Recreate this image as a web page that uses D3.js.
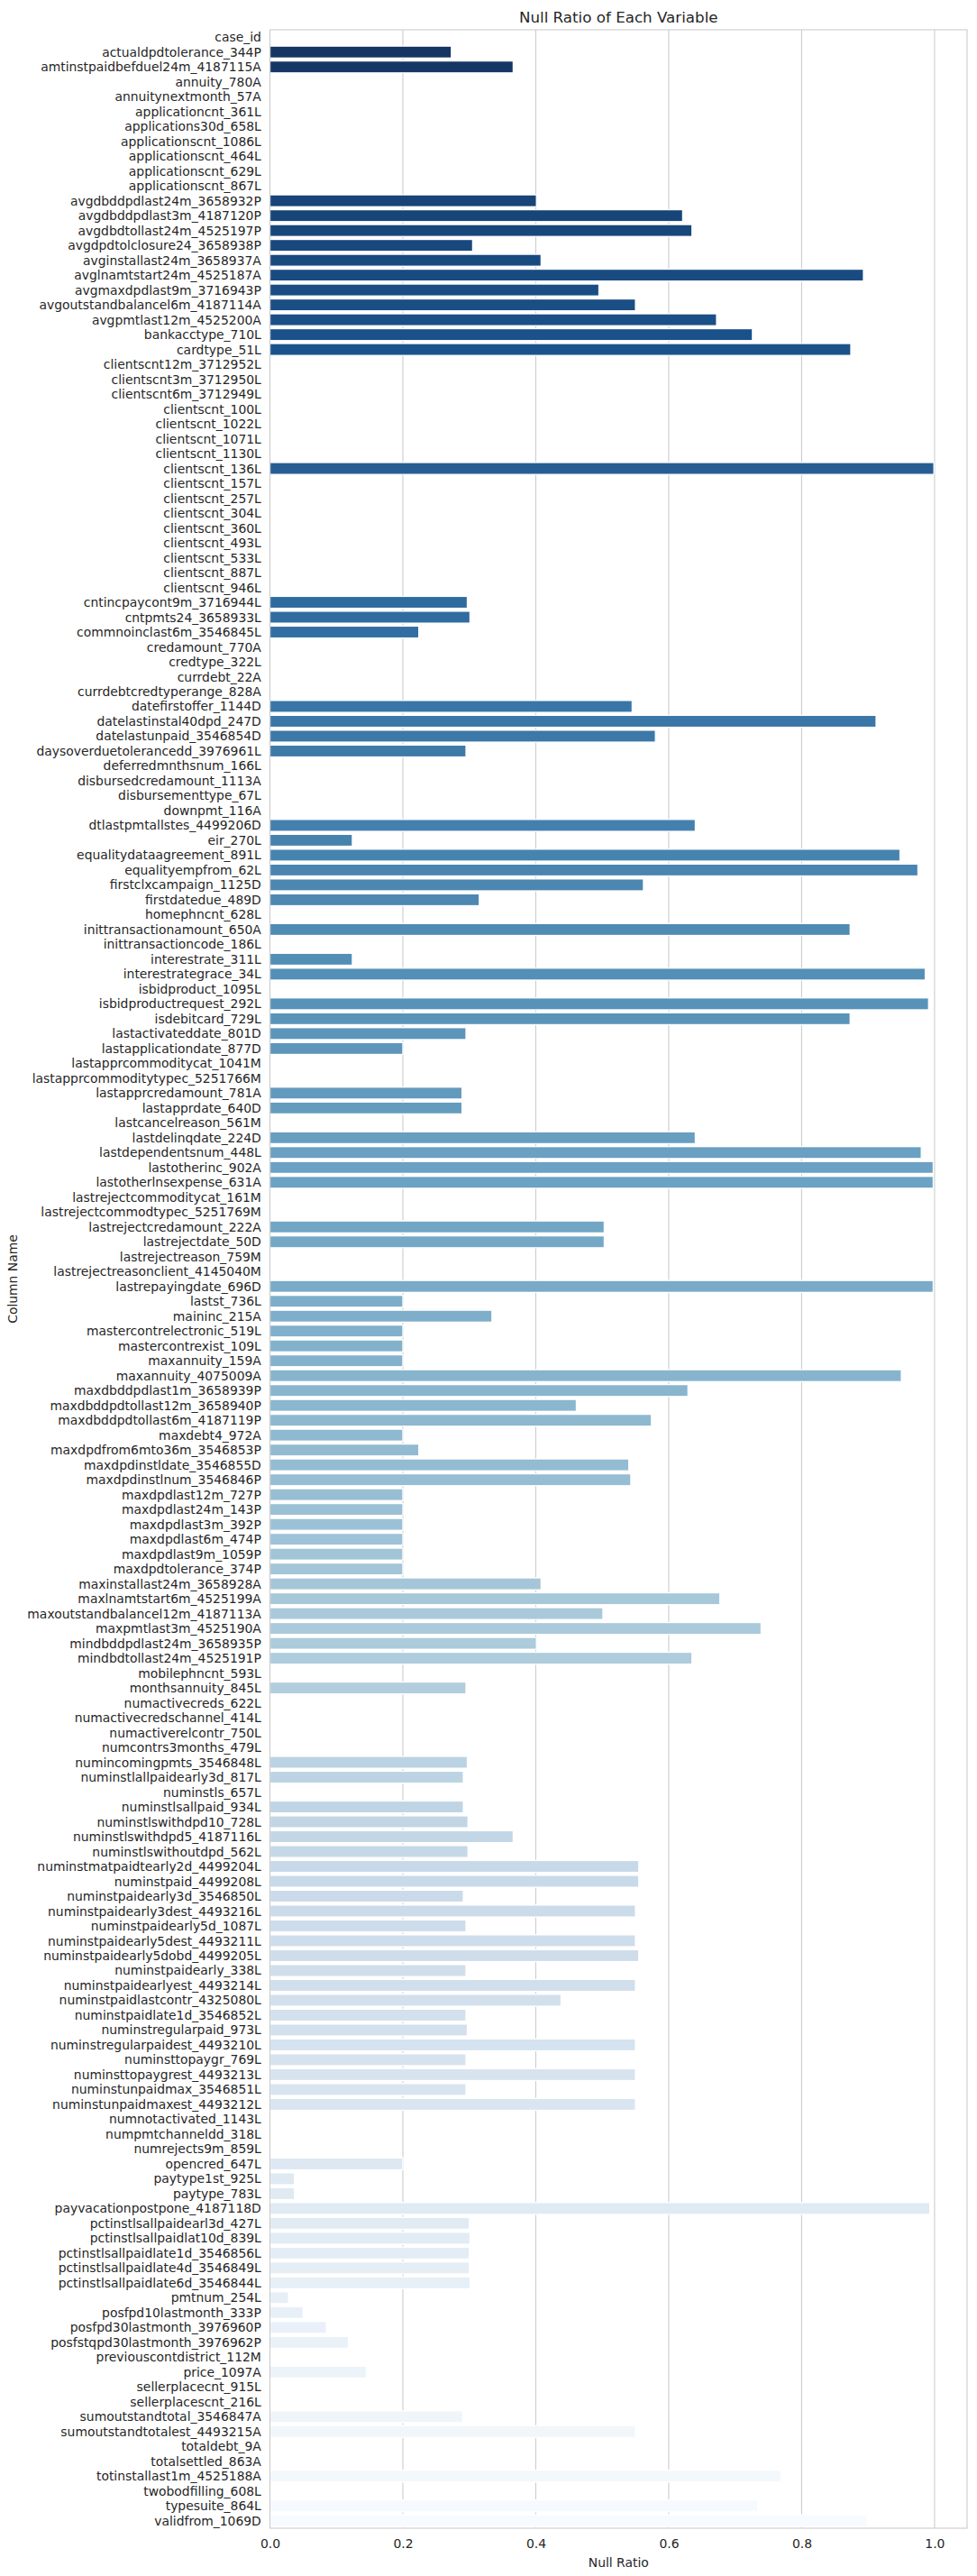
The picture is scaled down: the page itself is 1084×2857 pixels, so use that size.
<!DOCTYPE html>
<html>
<head>
<meta charset="utf-8">
<script src="https://cdn.jsdelivr.net/npm/d3@7"></script>
<style>
  html, body { margin: 0; padding: 0; background: #ffffff; }
  svg { display: block; }
  text { font-family: "DejaVu Sans", sans-serif; fill: #262626; }
</style>
</head>
<body>
<script>
const categories = [
  "case_id","actualdpdtolerance_344P","amtinstpaidbefduel24m_4187115A","annuity_780A","annuitynextmonth_57A",
  "applicationcnt_361L","applications30d_658L","applicationscnt_1086L","applicationscnt_464L","applicationscnt_629L",
  "applicationscnt_867L","avgdbddpdlast24m_3658932P","avgdbddpdlast3m_4187120P","avgdbdtollast24m_4525197P","avgdpdtolclosure24_3658938P",
  "avginstallast24m_3658937A","avglnamtstart24m_4525187A","avgmaxdpdlast9m_3716943P","avgoutstandbalancel6m_4187114A","avgpmtlast12m_4525200A",
  "bankacctype_710L","cardtype_51L","clientscnt12m_3712952L","clientscnt3m_3712950L","clientscnt6m_3712949L",
  "clientscnt_100L","clientscnt_1022L","clientscnt_1071L","clientscnt_1130L","clientscnt_136L",
  "clientscnt_157L","clientscnt_257L","clientscnt_304L","clientscnt_360L","clientscnt_493L",
  "clientscnt_533L","clientscnt_887L","clientscnt_946L","cntincpaycont9m_3716944L","cntpmts24_3658933L",
  "commnoinclast6m_3546845L","credamount_770A","credtype_322L","currdebt_22A","currdebtcredtyperange_828A",
  "datefirstoffer_1144D","datelastinstal40dpd_247D","datelastunpaid_3546854D","daysoverduetolerancedd_3976961L","deferredmnthsnum_166L",
  "disbursedcredamount_1113A","disbursementtype_67L","downpmt_116A","dtlastpmtallstes_4499206D","eir_270L",
  "equalitydataagreement_891L","equalityempfrom_62L","firstclxcampaign_1125D","firstdatedue_489D","homephncnt_628L",
  "inittransactionamount_650A","inittransactioncode_186L","interestrate_311L","interestrategrace_34L","isbidproduct_1095L",
  "isbidproductrequest_292L","isdebitcard_729L","lastactivateddate_801D","lastapplicationdate_877D","lastapprcommoditycat_1041M",
  "lastapprcommoditytypec_5251766M","lastapprcredamount_781A","lastapprdate_640D","lastcancelreason_561M","lastdelinqdate_224D",
  "lastdependentsnum_448L","lastotherinc_902A","lastotherlnsexpense_631A","lastrejectcommoditycat_161M","lastrejectcommodtypec_5251769M",
  "lastrejectcredamount_222A","lastrejectdate_50D","lastrejectreason_759M","lastrejectreasonclient_4145040M","lastrepayingdate_696D",
  "lastst_736L","maininc_215A","mastercontrelectronic_519L","mastercontrexist_109L","maxannuity_159A",
  "maxannuity_4075009A","maxdbddpdlast1m_3658939P","maxdbddpdtollast12m_3658940P","maxdbddpdtollast6m_4187119P","maxdebt4_972A",
  "maxdpdfrom6mto36m_3546853P","maxdpdinstldate_3546855D","maxdpdinstlnum_3546846P","maxdpdlast12m_727P","maxdpdlast24m_143P",
  "maxdpdlast3m_392P","maxdpdlast6m_474P","maxdpdlast9m_1059P","maxdpdtolerance_374P","maxinstallast24m_3658928A",
  "maxlnamtstart6m_4525199A","maxoutstandbalancel12m_4187113A","maxpmtlast3m_4525190A","mindbddpdlast24m_3658935P","mindbdtollast24m_4525191P",
  "mobilephncnt_593L","monthsannuity_845L","numactivecreds_622L","numactivecredschannel_414L","numactiverelcontr_750L",
  "numcontrs3months_479L","numincomingpmts_3546848L","numinstlallpaidearly3d_817L","numinstls_657L","numinstlsallpaid_934L",
  "numinstlswithdpd10_728L","numinstlswithdpd5_4187116L","numinstlswithoutdpd_562L","numinstmatpaidtearly2d_4499204L","numinstpaid_4499208L",
  "numinstpaidearly3d_3546850L","numinstpaidearly3dest_4493216L","numinstpaidearly5d_1087L","numinstpaidearly5dest_4493211L","numinstpaidearly5dobd_4499205L",
  "numinstpaidearly_338L","numinstpaidearlyest_4493214L","numinstpaidlastcontr_4325080L","numinstpaidlate1d_3546852L","numinstregularpaid_973L",
  "numinstregularpaidest_4493210L","numinsttopaygr_769L","numinsttopaygrest_4493213L","numinstunpaidmax_3546851L","numinstunpaidmaxest_4493212L",
  "numnotactivated_1143L","numpmtchanneldd_318L","numrejects9m_859L","opencred_647L","paytype1st_925L",
  "paytype_783L","payvacationpostpone_4187118D","pctinstlsallpaidearl3d_427L","pctinstlsallpaidlat10d_839L","pctinstlsallpaidlate1d_3546856L",
  "pctinstlsallpaidlate4d_3546849L","pctinstlsallpaidlate6d_3546844L","pmtnum_254L","posfpd10lastmonth_333P","posfpd30lastmonth_3976960P",
  "posfstqpd30lastmonth_3976962P","previouscontdistrict_112M","price_1097A","sellerplacecnt_915L","sellerplacescnt_216L",
  "sumoutstandtotal_3546847A","sumoutstandtotalest_4493215A","totaldebt_9A","totalsettled_863A","totinstallast1m_4525188A",
  "twobodfilling_608L","typesuite_864L","validfrom_1069D"
];

const nullRatio = [
  0, 0.273, 0.366, 0, 0,
  0, 0, 0, 0, 0,
  0, 0.401, 0.621, 0.635, 0.305,
  0.408, 0.893, 0.495, 0.550, 0.672,
  0.726, 0.874, 0, 0, 0,
  0, 0, 0, 0, 0.999,
  0, 0, 0, 0, 0,
  0, 0, 0, 0.297, 0.301,
  0.224, 0, 0, 0, 0,
  0.545, 0.912, 0.580, 0.295, 0,
  0, 0, 0, 0.640, 0.124,
  0.948, 0.975, 0.562, 0.315, 0,
  0.873, 0, 0.124, 0.986, 0,
  0.991, 0.873, 0.295, 0.200, 0,
  0, 0.289, 0.289, 0, 0.640,
  0.980, 0.998, 0.998, 0, 0,
  0.503, 0.503, 0, 0, 0.998,
  0.200, 0.334, 0.200, 0.200, 0.200,
  0.950, 0.629, 0.461, 0.574, 0.200,
  0.224, 0.540, 0.543, 0.200, 0.200,
  0.200, 0.200, 0.200, 0.200, 0.408,
  0.677, 0.501, 0.739, 0.401, 0.635,
  0, 0.295, 0, 0, 0,
  0, 0.297, 0.291, 0, 0.291,
  0.298, 0.366, 0.298, 0.555, 0.555,
  0.291, 0.550, 0.295, 0.550, 0.555,
  0.295, 0.550, 0.438, 0.295, 0.297,
  0.550, 0.295, 0.550, 0.295, 0.550,
  0, 0, 0, 0.200, 0.037,
  0.037, 0.993, 0.300, 0.301, 0.300,
  0.300, 0.301, 0.028, 0.050, 0.085,
  0.118, 0, 0.145, 0, 0,
  0.290, 0.550, 0, 0, 0.769,
  0, 0.734, 0.899
];

const xTicks = [0, 0.2, 0.4, 0.6, 0.8, 1.0];
const xTickLabels = ["0.0", "0.2", "0.4", "0.6", "0.8", "1.0"];
const titleText = "Null Ratio of Each Variable";
const xLabelText = "Null Ratio";
const yLabelText = "Column Name";
// matplotlib "Blues" anchor colours (linear segmented)
const bluesAnchors = ["#f7fbff","#deebf7","#c6dbef","#9ecae1","#6baed6","#4292c6","#2171b5","#08519c","#08306b"];

(function draw() {
  const W = 1084, H = 2857;
  const axLeft = 299.5, axRight = 1073, axTop = 33, axBottom = 2804;

  const svg = d3.select("body").append("svg")
    .attr("width", W).attr("height", H)
    .attr("viewBox", `0 0 ${W} ${H}`);
  svg.append("rect").attr("width", W).attr("height", H).attr("fill", "#ffffff");

  const x = d3.scaleLinear()
    .domain([0, d3.max(nullRatio) * 1.05])
    .range([axLeft, axRight]);

  const y = d3.scaleBand()
    .domain(categories)
    .range([axTop, axBottom])
    .paddingInner(0.2).paddingOuter(0.1);

  // colour: Blues_r sampled like seaborn, then desaturated by 0.75
  const blues = d3.scaleLinear()
    .domain(d3.range(bluesAnchors.length).map(i => i / (bluesAnchors.length - 1)))
    .range(bluesAnchors)
    .interpolate(d3.interpolateRgb);
  const n = categories.length;
  const colorFor = i => {
    const t = (i + 1) / (n + 1);
    const c = d3.hsl(blues(1 - t));
    c.s *= 0.75;
    return c.formatHex();
  };

  // grid (below bars)
  svg.append("g").selectAll("line").data(xTicks).join("line")
    .attr("x1", d => x(d)).attr("x2", d => x(d))
    .attr("y1", axTop).attr("y2", axBottom)
    .attr("stroke", "#cccccc").attr("stroke-width", 1.1);

  // bars
  svg.append("g").selectAll("rect").data(categories).join("rect")
    .attr("x", x(0))
    .attr("y", d => y(d))
    .attr("height", y.bandwidth())
    .attr("width", (d, i) => x(nullRatio[i]) - x(0))
    .attr("fill", (d, i) => colorFor(i))
    .attr("stroke", (d, i) => nullRatio[i] > 0 ? "#ffffff" : "none")
    .attr("stroke-width", 1.3);

  // spines
  svg.append("rect")
    .attr("x", axLeft).attr("y", axTop)
    .attr("width", axRight - axLeft).attr("height", axBottom - axTop)
    .attr("fill", "none").attr("stroke", "#cccccc").attr("stroke-width", 1.1);

  // y tick labels
  const gy = svg.append("g").attr("transform", `translate(${axLeft},0)`)
    .call(d3.axisLeft(y).tickSize(0).tickPadding(9.7));
  gy.select(".domain").remove();
  gy.selectAll("text")
    .attr("font-family", "DejaVu Sans").attr("font-size", 13.9).attr("fill", "#262626")
    .attr("dy", "0.36em");

  // x tick labels
  const gx = svg.append("g").attr("transform", `translate(0,${axBottom})`)
    .call(d3.axisBottom(x).tickValues(xTicks).tickFormat((d, i) => xTickLabels[i]).tickSize(0).tickPadding(0));
  gx.select(".domain").remove();
  gx.selectAll("text")
    .attr("font-family", "DejaVu Sans").attr("font-size", 13.9).attr("fill", "#262626")
    .attr("y", 22).attr("dy", 0);

  // title
  svg.append("text")
    .attr("x", (axLeft + axRight) / 2).attr("y", 25)
    .attr("text-anchor", "middle").attr("font-size", 16.7)
    .text(titleText);

  // x label
  svg.append("text")
    .attr("x", (axLeft + axRight) / 2).attr("y", 2847)
    .attr("text-anchor", "middle").attr("font-size", 13.9)
    .text(xLabelText);

  // y label
  svg.append("text")
    .attr("transform", `translate(19,${(axTop + axBottom) / 2}) rotate(-90)`)
    .attr("text-anchor", "middle").attr("font-size", 13.9)
    .text(yLabelText);
})();
</script>
</body>
</html>
